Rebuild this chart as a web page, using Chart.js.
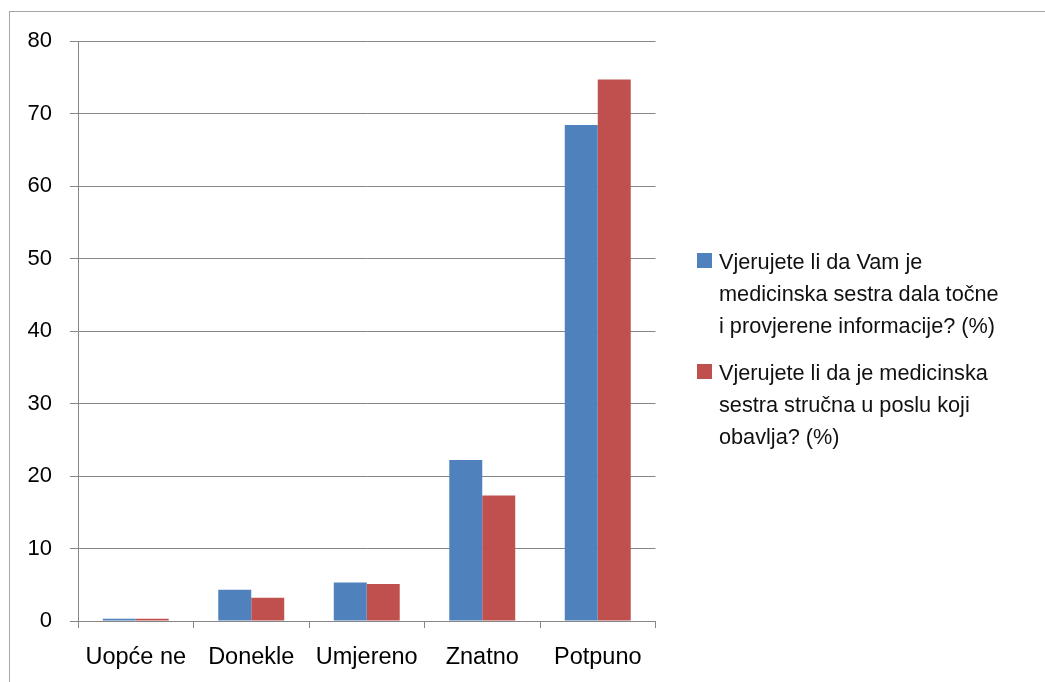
<!DOCTYPE html>
<html>
<head>
<meta charset="utf-8">
<script src="https://cdn.jsdelivr.net/npm/chart.js@4"></script>
<style>
  html, body { margin:0; padding:0; background:#fff; }
  #wrap { position:relative; width:1045px; height:682px; overflow:hidden; }
  #frame { position:absolute; left:9px; top:11px; width:1040px; height:700px; border:1px solid #a6a6a6; box-sizing:border-box; pointer-events:none; }
  canvas { position:absolute; left:0; top:0; }
  .leg { position:absolute; left:697px; font-family:'Liberation Sans', Arial, sans-serif; font-size:21.7px; line-height:32px; color:#111; }
  .leg .sw { position:absolute; left:0; width:15px; height:15px; top:7px; }
  .leg .tx { margin-left:22px; white-space:nowrap; }
</style>
</head>
<body>
<div id="wrap">
  <canvas id="c" width="1045" height="682"></canvas>
  <div id="frame"></div>
  <div class="leg" id="leg1" style="top:246px;"><div class="sw" style="background:#4F81BD"></div><div class="tx"></div></div>
  <div class="leg" id="leg2" style="top:357px;"><div class="sw" style="background:#C0504D"></div><div class="tx"></div></div>
</div>
<script>
const categories = ['Uopće ne', 'Donekle', 'Umjereno', 'Znatno', 'Potpuno'];
const seriesNames = [
  'Vjerujete li da Vam je medicinska sestra dala točne i provjerene informacije? (%)',
  'Vjerujete li da je medicinska sestra stručna u poslu koji obavlja? (%)'
];
const legendLines1 = ['Vjerujete li da Vam je', 'medicinska sestra dala točne', 'i provjerene informacije? (%)'];
const legendLines2 = ['Vjerujete li da je medicinska', 'sestra stručna u poslu koji', 'obavlja? (%)'];
const series1 = [0.3, 4.3, 5.3, 22.2, 68.4];
const series2 = [0.3, 3.2, 5.1, 17.3, 74.7];
const yMin = 0, yMax = 80, yStep = 10;

document.querySelector('#leg1 .tx').innerHTML = legendLines1.join('<br>');
document.querySelector('#leg2 .tx').innerHTML = legendLines2.join('<br>');

const yFont = { family: "'Liberation Sans', Arial, sans-serif", size: 22 };
const xFont = { family: "'Liberation Sans', Arial, sans-serif", size: 23.5 };
new Chart(document.getElementById('c'), {
  type: 'bar',
  data: {
    labels: categories,
    datasets: [
      { label: seriesNames[0], data: series1, backgroundColor: '#4F81BD', categoryPercentage: 0.571, barPercentage: 1.0 },
      { label: seriesNames[1], data: series2, backgroundColor: '#C0504D', categoryPercentage: 0.571, barPercentage: 1.0 }
    ]
  },
  options: {
    responsive: false,
    animation: false,
    events: [],
    layout: { padding: { left: 0, top: 41, right: 389.5, bottom: 0 } },
    plugins: { legend: { display: false }, tooltip: { enabled: false } },
    scales: {
      x: {
        offset: true,
        grid: { display: true, drawOnChartArea: false, drawTicks: true, tickLength: 7, offset: true, color: '#868686' },
        border: { display: true, color: '#868686', width: 1 },
        ticks: { color: '#000', font: xFont, padding: 15, maxRotation: 0, autoSkip: false },
        afterFit: s => { s.height = 61; }
      },
      y: {
        min: yMin, max: yMax,
        grid: { color: '#868686', lineWidth: 1, tickLength: 8 },
        border: { display: true, color: '#868686', width: 1 },
        ticks: { stepSize: yStep, color: '#000', font: yFont, padding: 18 },
        afterFit: s => { s.width = 78; }
      }
    }
  }
});
</script>
</body>
</html>
